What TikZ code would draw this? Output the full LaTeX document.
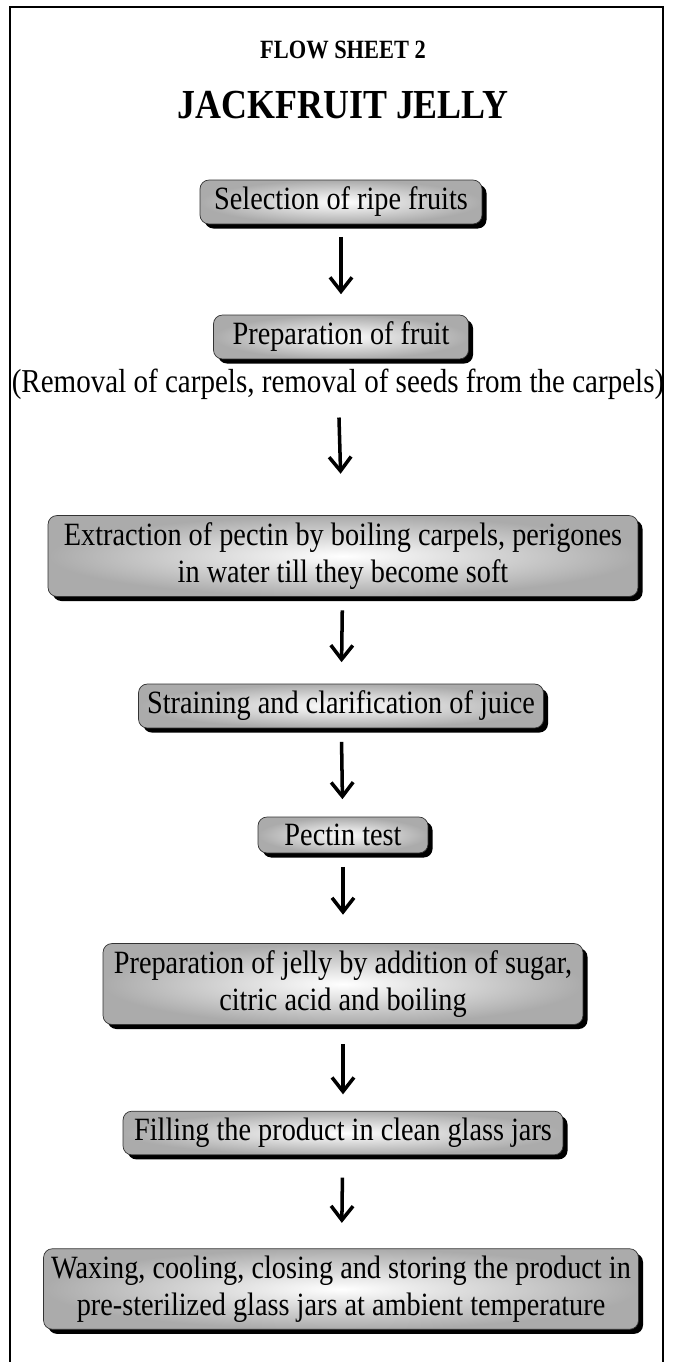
\documentclass[tikz,border=0pt]{standalone}
\usepackage{fontspec}
\setmainfont{Liberation Serif}[FakeStretch=0.87]
\newfontfamily\headfont{Liberation Serif}[FakeStretch=0.85]
\usetikzlibrary{arrows.meta, shadows}

\begin{document}
\begin{tikzpicture}[x=0.02cm, y=-0.02cm,
  stepbox/.style={rectangle, rounded corners=5pt, draw=black!80, thin,
    inner color=white, outer color=black!33, align=center,
    font=\fontsize{18.5}{21}\selectfont, inner xsep=3pt, inner ysep=4pt,
    drop shadow={shadow xshift=2.6pt, shadow yshift=-2.6pt, fill=black, opacity=1}},
  flow/.style={-{Straight Barb[length=8pt, width=12.5pt, line width=2pt]}, line width=2pt}]
\useasboundingbox (0,0) rectangle (673,1362);
% frame
\draw [line width=1.1pt] (10,1362) -- (10,7) -- (663,7) -- (663,1362);
% titles
\node (sheet) at (343,50) {\headfont\bfseries\fontsize{15}{18}\selectfont FLOW SHEET 2};
\node (title) at (343,105) {\bfseries\fontsize{23.5}{27}\selectfont JACKFRUIT JELLY};
% steps
\node [stepbox, minimum width=5.64cm] (select) at (341,202) {Selection of ripe fruits};
\node [stepbox, minimum width=5.1cm] (prep) at (341,337) {Preparation of fruit};
\node (removal) at (338,384) {\fontsize{19}{22}\selectfont (Removal of carpels, removal of seeds from the carpels)};
\node [stepbox, minimum width=11.8cm] (extract) at (343,556)
  {Extraction of pectin by boiling carpels, perigones\\ in water till they become soft};
\node [stepbox, minimum width=8.1cm] (strain) at (341,706) {Straining and clarification of juice};
\node [stepbox, minimum width=3.4cm] (pectin) at (343,835) {Pectin test};
\node [stepbox, minimum width=9.6cm] (jelly) at (343,984)
  {Preparation of jelly by addition of sugar,\\ citric acid and boiling};
\node [stepbox, minimum width=8.8cm] (fill) at (343,1133) {Filling the product in clean glass jars};
\node [stepbox, minimum width=11.9cm] (wax) at (341,1289)
  {Waxing, cooling, closing and storing the product in\\ pre-sterilized glass jars at ambient temperature};
% arrows
\draw [flow, shorten <=0.25cm, shorten >=0.41cm] (select) -- (prep);
\draw [flow, shorten <=0.24cm, shorten >=0.83cm] (removal) -- (extract);
\draw [flow, shorten <=0.27cm, shorten >=0.43cm] (extract) -- (strain);
\draw [flow, shorten <=0.27cm, shorten >=0.35cm] (strain) -- (pectin);
\draw [flow, shorten <=0.27cm, shorten >=0.57cm] (pectin) -- (jelly);
\draw [flow, shorten <=0.39cm, shorten >=0.33cm] (jelly) -- (fill);
\draw [flow, shorten <=0.45cm, shorten >=0.51cm] (fill) -- (wax);
\end{tikzpicture}
\end{document}
